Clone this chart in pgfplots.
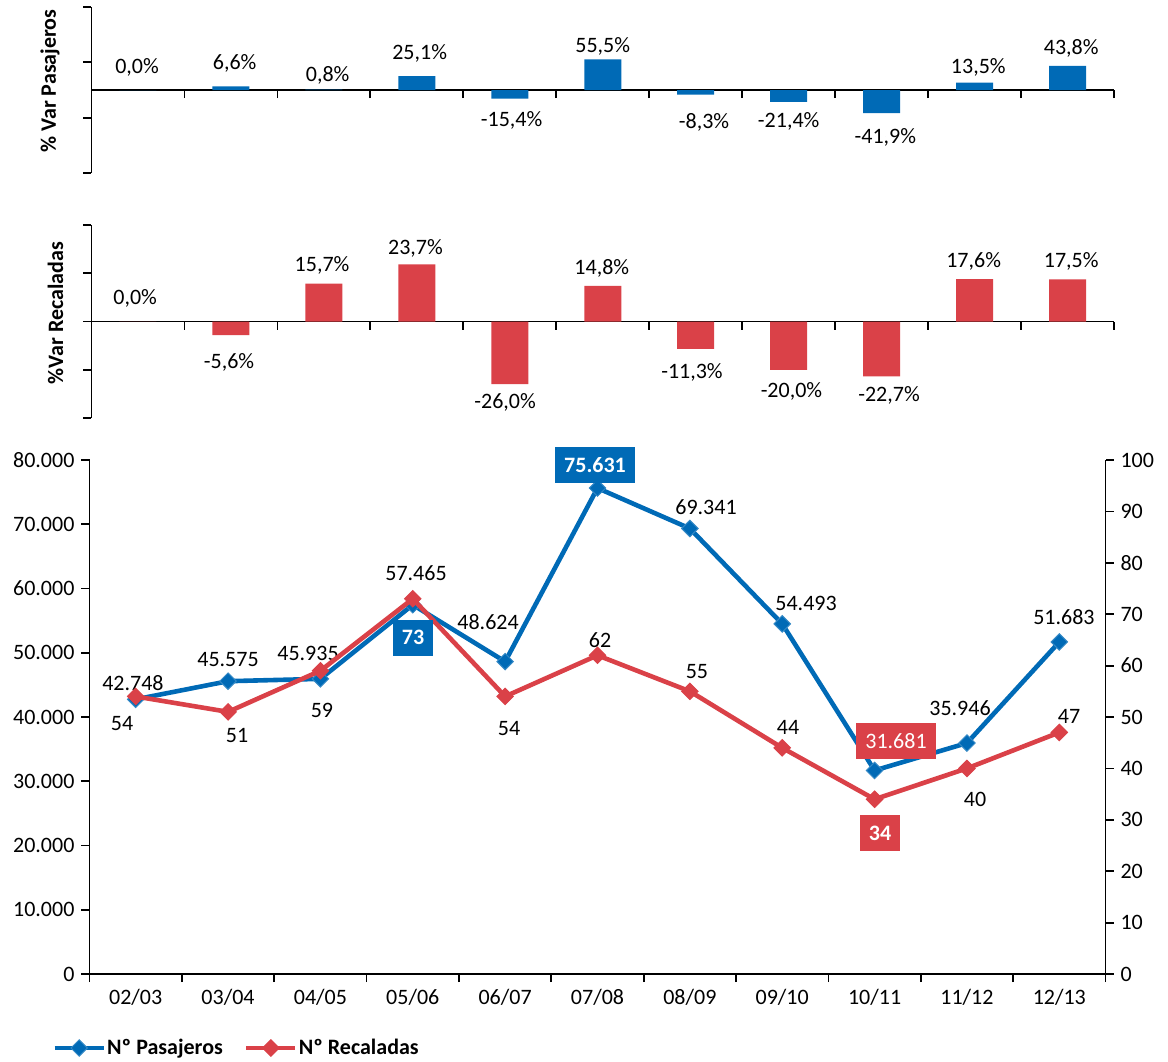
\documentclass[border=0pt]{standalone}
\usepackage{fontspec}
\setmainfont{Carlito}
\usepackage{pgfplots}
\pgfplotsset{compat=1.18}
\definecolor{cblue}{RGB}{0,106,182}
\definecolor{cred}{RGB}{218,65,72}
\newcommand\cf{\fontsize{11pt}{13pt}\selectfont}

\pgfplotsset{
  base/.style={
    scale only axis,
    xmin=-0.5, xmax=10.5,
    font=\cf,
    tick label style={font=\cf},
    /pgf/number format/assume math mode=true,
    axis line style={line width=0.9pt, black},
    every tick/.style={line width=0.9pt, black},
    major tick length=4pt,
    tick align=outside,
    clip=false,
  },
  lab/.style={only marks, mark=*, mark size=0pt, mark options={draw=none, fill=none},
    point meta=explicit, forget plot,
    every node near coord/.append style={anchor=center, font=\cf, text=black, inner sep=0pt}},
  pctlab/.style={lab,
    nodes near coords={\pgfmathprintnumber[fixed, fixed zerofill, precision=1, use comma]{\pgfplotspointmeta}\%}},
  numlab/.style={lab,
    nodes near coords={\pgfmathprintnumber[fixed, precision=0, 1000 sep={.}]{\pgfplotspointmeta}}},
  boxlab/.style={numlab,
    every node near coord/.append style={fill=#1, text=white, inner xsep=4.5pt, inner ysep=0pt, minimum height=18pt}},
}

\begin{document}
\begin{tikzpicture}
% ---------- top panel ----------
\begin{axis}[base,
  at={(45.75pt,-3.5pt)}, anchor=north west,
  width=511.25pt, height=83pt,
  ymin=-150, ymax=150,
  axis y line*=left, axis x line*=middle,
  ytick={-150,-50,50,150}, yticklabels={},
  xtick={-0.5,0.5,...,10.5}, xticklabels={},
  ylabel={\bfseries \% Var Pasajeros},
  ylabel style={at={(axis description cs:-0.0406,0.554)}, anchor=center},
]
\addplot[ybar, bar width=18.5pt, fill=cblue, draw=none] coordinates {
  (0,0.0) (1,6.6) (2,0.8) (3,25.1) (4,-15.4) (5,55.5) (6,-8.3) (7,-21.4) (8,-41.9) (9,13.5) (10,43.8)};
\addplot[pctlab] table[x=x,y=y,meta=m]{
x y m
-0.01 41.6 0.0
1.04 48.8 6.6
2.04 27.1 0.8
3.03 66.9 25.1
4.02 -54.2 -15.4
5.00 79.0 55.5
6.09 -57.8 -8.3
7.00 -56.0 -21.4
8.04 -84.9 -41.9
9.04 41.6 13.5
10.04 75.9 43.8
};
\end{axis}

% ---------- middle panel ----------
\begin{axis}[base,
  at={(45.75pt,-112.5pt)}, anchor=north west,
  width=511.25pt, height=96.5pt,
  ymin=-40, ymax=40,
  axis y line*=left, axis x line*=middle,
  ytick={-40,-20,0,20,40}, yticklabels={},
  xtick={-0.5,0.5,...,10.5}, xticklabels={},
  ylabel={\bfseries \%Var Recaladas},
  ylabel style={at={(axis description cs:-0.0352,0.544)}, anchor=center},
]
\addplot[ybar, bar width=18.5pt, fill=cred, draw=none] coordinates {
  (0,0.0) (1,-5.6) (2,15.7) (3,23.7) (4,-26.0) (5,14.8) (6,-11.3) (7,-20.0) (8,-22.7) (9,17.6) (10,17.5)};
\addplot[pctlab] table[x=x,y=y,meta=m]{
x y m
-0.03 9.7 0.0
0.98 -16.8 -5.6
1.98 23.4 15.7
2.985 30.1 23.7
3.95 -33.4 -26.0
4.99 22.2 14.8
5.96 -21.3 -11.3
7.03 -28.8 -20.0
8.08 -30.5 -22.7
8.99 25.1 17.6
10.04 25.1 17.5
};
\end{axis}

% ---------- bottom panel, left axis ----------
\begin{axis}[base,
  at={(44.75pt,-230pt)}, anchor=north west,
  width=508pt, height=257pt,
  ymin=0, ymax=80000,
  axis y line*=left, axis x line*=bottom,
  ytick={0,10000,...,80000}, scaled y ticks=false,
  yticklabel style={/pgf/number format/.cd, fixed, 1000 sep={.}},
  xtick={-0.5,0.5,...,10.5},
  xticklabels={02/03,03/04,04/05,05/06,06/07,07/08,08/09,09/10,10/11,11/12,12/13,{}},
  xticklabel style={xshift=23.09pt},
  legend style={draw=none, fill=none, inner sep=0pt, anchor=west, at={(-0.0369,-0.144)},
    font=\cf\bfseries, legend columns=2, cells={anchor=west},
    nodes={inner sep=0.6pt},
    /tikz/every even column/.append style={column sep=10pt}},
  legend image code/.code={\draw[#1, mark repeat=2, mark phase=2] plot coordinates {(0pt,0pt) (12.25pt,0pt) (24.5pt,0pt)};},
]
\addplot[cblue, line width=2.3pt, mark=square*, mark size=2.9pt, mark options={rotate=45, line width=0.5pt, fill=cblue, draw=cblue!80!white}] coordinates {
  (0,42748) (1,45575) (2,45935) (3,57465) (4,48624) (5,75631) (6,69341) (7,54493) (8,31681) (9,35946) (10,51683)};
\addlegendentry{Nº Pasajeros}
\addlegendimage{cred, line width=2.3pt, mark=square*, mark size=2.9pt, mark options={rotate=45, line width=0.5pt, fill=cred, draw=cred}}
\addlegendentry{Nº Recaladas}
\addplot[numlab] table[x=x,y=y,meta=m]{
x y m
-0.03 45291 42748
1.00 48871 45575
1.866 49960 45935
3.035 62412 57465
3.815 54785 48624
6.175 72684 69341
7.258 57742 54493
8.925 41400 35946
10.05 55563 51683
};
\addplot[boxlab=cblue, every node near coord/.append style={font=\cf\bfseries}] table[x=x,y=y,meta=m]{
x y m
4.973 79221 75631
};
\addplot[boxlab=cred] table[x=x,y=y,meta=m]{
x y m
8.232 36264 31681
};
\end{axis}

% ---------- bottom panel, right axis ----------
\begin{axis}[base,
  at={(44.75pt,-230pt)}, anchor=north west,
  width=508pt, height=257pt,
  ymin=0, ymax=100,
  axis y line*=right, axis x line=none,
  ytick={0,10,...,100},
]
\addplot[cred, line width=2.3pt, mark=square*, mark size=2.9pt, mark options={rotate=45, line width=0.5pt, fill=cred, draw=cred}] coordinates {
  (0,54) (1,51) (2,59) (3,73) (4,54) (5,62) (6,55) (7,44) (8,34) (9,40) (10,47)};
\addplot[numlab] table[x=x,y=y,meta=m]{
x y m
-0.148 48.8 54
1.097 46.5 51
2.017 51.2 59
4.042 47.7 54
5.027 65.0 62
6.077 58.8 55
7.063 47.9 44
9.088 34.0 40
10.105 50.2 47
};
\addplot[boxlab=cblue, every node near coord/.append style={font=\cf\bfseries}] table[x=x,y=y,meta=m]{
x y m
3.003 65.4 73
};
\addplot[boxlab=cred, every node near coord/.append style={font=\cf\bfseries}] table[x=x,y=y,meta=m]{
x y m
8.059 27.4 34
};
\end{axis}

\pgfresetboundingbox
\useasboundingbox (0,0) rectangle (584pt,-530.5pt);
\end{tikzpicture}
\end{document}
